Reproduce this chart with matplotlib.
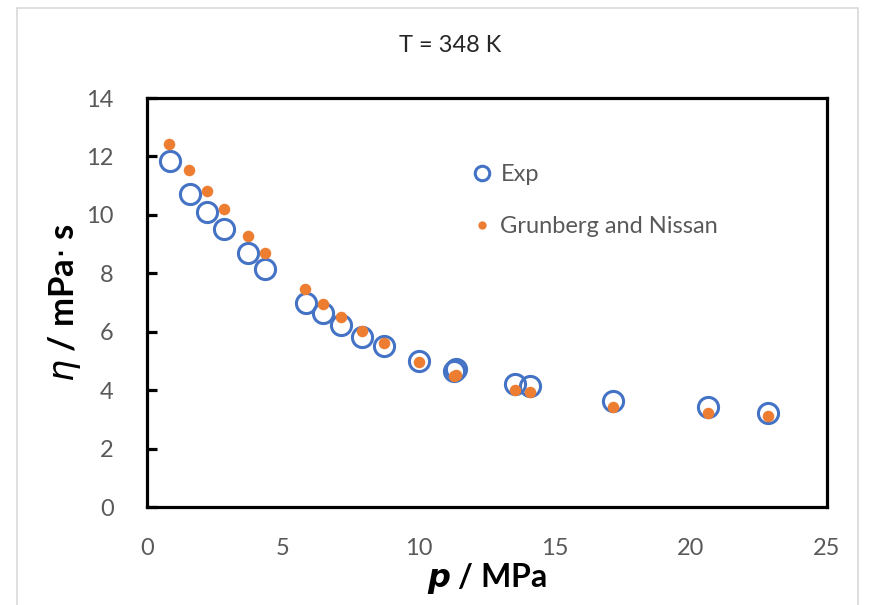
import matplotlib.pyplot as plt

plt.rcParams['font.family'] = ['Lato', 'DejaVu Sans']

# pressure (MPa) and viscosity (mPa s)
p_exp = [0.85, 1.58, 2.21, 2.83, 3.71, 4.34, 5.85, 6.47, 7.13, 7.90, 8.71,
         10.0, 11.27, 11.35, 13.53, 14.08, 17.13, 20.63, 22.83]
eta_exp = [11.85, 10.72, 10.10, 9.52, 8.70, 8.15, 6.98, 6.64, 6.23, 5.82, 5.51,
           5.00, 4.66, 4.72, 4.21, 4.14, 3.63, 3.42, 3.22]

p_gn = [0.81, 1.54, 2.21, 2.83, 3.71, 4.34, 5.81, 6.47, 7.13, 7.90, 8.71,
        10.0, 11.27, 11.35, 13.53, 14.08, 17.13, 20.63, 22.83]
eta_gn = [12.43, 11.54, 10.82, 10.20, 9.28, 8.70, 7.46, 6.95, 6.50, 6.03, 5.61,
          4.96, 4.49, 4.52, 4.00, 3.94, 3.42, 3.22, 3.12]

fig = plt.figure(figsize=(8.74, 6.05), dpi=100)
ax = fig.add_axes([147 / 874, 1 - 507 / 605, 680 / 874, 409 / 605])

# light grey chart border
fig.patches.append(plt.Rectangle((17 / 874, -0.01), 841 / 874, 1 - 8 / 605 + 0.01,
                                 transform=fig.transFigure, fill=False,
                                 edgecolor='#d9d9d9', linewidth=1.2))

ax.plot(p_exp, eta_exp, 'o', markersize=14.5, markerfacecolor='none',
        markeredgecolor='#4472c4', markeredgewidth=2.2, label='Exp', zorder=3)
ax.plot(p_gn, eta_gn, 'o', markersize=8.3, color='#ed7d31',
        markeredgewidth=0, label='Grunberg and Nissan', zorder=4)

ax.set_xlim(0, 25)
ax.set_ylim(0, 14)
ax.set_xticks(range(0, 26, 5))
ax.set_yticks(range(0, 15, 2))
for s in ax.spines.values():
    s.set_linewidth(2.3)
    s.set_color('black')
ax.tick_params(axis='y', direction='in', length=7, width=2.3, labelsize=17,
               labelcolor='#595959', pad=24)
ax.tick_params(axis='x', length=0, labelsize=17, labelcolor='#595959', pad=22)

ax.set_xlabel(r'$\boldsymbol{p}$ / MPa', fontsize=23, fontweight='bold', labelpad=2)
ax.set_ylabel(r'$\eta$ / mPa$\cdot$ s', fontsize=25, fontweight='bold', labelpad=2)
ax.xaxis.label.set_math_fontfamily('dejavusans')

fig.text(450 / 874, 1 - 45 / 605, 'T = 348 K', ha='center', va='center',
         fontsize=17, color='#262626')

ax.legend(loc='upper left', bbox_to_anchor=(0.433, 0.89), frameon=False,
          fontsize=17, labelcolor='#595959', handletextpad=0.0,
          labelspacing=1.3, markerscale=0.72, handlelength=1.6)

fig.savefig('out.png', dpi=100)
